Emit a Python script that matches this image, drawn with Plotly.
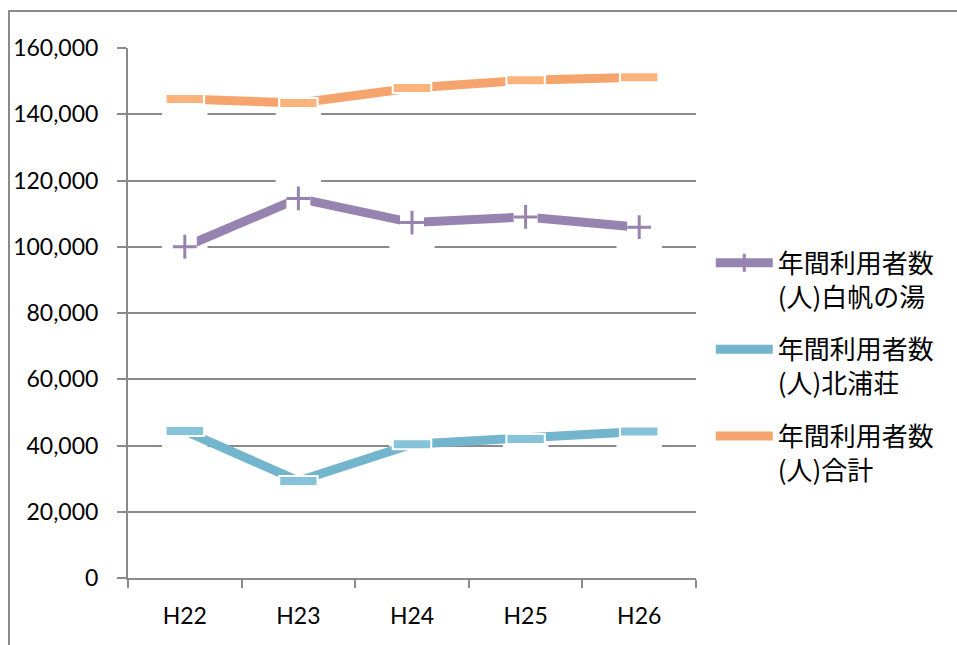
import plotly.graph_objects as go

# Fiscal years (Heisei era)
years = ["H22", "H23", "H24", "H25", "H26"]

# Annual visitor counts
shirahonoyu = [100000, 114600, 107300, 109000, 105900]
kitaurasou = [44400, 29300, 40400, 42000, 44200]
total = [144600, 143400, 147900, 150300, 151200]

# Series names
name_shiraho = "年間利用者数<br>(人)白帆の湯"
name_kitaura = "年間利用者数<br>(人)北浦荘"
name_total = "年間利用者数<br>(人)合計"

PURPLE = "#9783b0"
CYAN = "#73b5cd"
ORANGE = "#f6a46d"
ORANGE_LIGHT = "#fbb37c"
CYAN_LIGHT = "#86c3d8"
GRID = "#8a8a8a"

LATIN = "Lato"
CJK = "Noto Sans CJK JP"

fig = go.Figure()

# Line series (legend entries)
fig.add_trace(go.Scatter(
    x=years, y=shirahonoyu, name=name_shiraho, legendgroup="a",
    mode="lines+markers",
    line=dict(color=PURPLE, width=9),
    marker=dict(symbol="cross-thin", size=13, color=PURPLE,
                line=dict(color=PURPLE, width=3)),
))
fig.add_trace(go.Scatter(
    x=years, y=kitaurasou, name=name_kitaura, legendgroup="b",
    mode="lines", line=dict(color=CYAN, width=9),
))
fig.add_trace(go.Scatter(
    x=years, y=total, name=name_total, legendgroup="c",
    mode="lines", line=dict(color=ORANGE, width=9),
))

# White backing behind the cross markers
fig.add_trace(go.Scatter(
    x=years, y=shirahonoyu, mode="markers", showlegend=False, hoverinfo="skip",
    marker=dict(symbol="square", size=24, color="white", line=dict(width=0)),
))
fig.add_trace(go.Scatter(
    x=years, y=shirahonoyu, mode="markers", showlegend=False, hoverinfo="skip",
    marker=dict(symbol="cross-thin", size=17, color=PURPLE,
                line=dict(color=PURPLE, width=3)),
))

# Dash markers with a white rim for the other two series
for vals, light in ((kitaurasou, CYAN_LIGHT), (total, ORANGE_LIGHT)):
    fig.add_trace(go.Scatter(
        x=years, y=vals, mode="markers", showlegend=False, hoverinfo="skip",
        marker=dict(symbol="line-ew", size=29, color="white",
                    line=dict(color="white", width=12)),
    ))
    fig.add_trace(go.Scatter(
        x=years, y=vals, mode="markers", showlegend=False, hoverinfo="skip",
        marker=dict(symbol="line-ew", size=26, color=light,
                    line=dict(color=light, width=8)),
    ))

# White glow around each marker, drawn over the gridlines
shapes = []
for vals, half_h in ((shirahonoyu, 8200), (kitaurasou, 6000), (total, 6000)):
    for i, v in enumerate(vals):
        shapes.append(dict(
            type="rect", xref="x", yref="y", layer="between",
            x0=i - 0.2, x1=i + 0.2, y0=v - half_h, y1=v + half_h,
            fillcolor="white", line=dict(width=0),
        ))

# Outer frame (left and top edges visible)
shapes.append(dict(
    type="rect", xref="paper", yref="paper", layer="above",
    x0=-0.2095, x1=1.5, y0=-0.2, y1=1.0698,
    line=dict(color=GRID, width=2), fillcolor="rgba(0,0,0,0)",
))

fig.update_layout(
    width=957, height=645,
    margin=dict(l=128, r=261, t=48, b=67),
    paper_bgcolor="white", plot_bgcolor="white",
    font=dict(family=LATIN, size=23, color="black"),
    shapes=shapes,
    showlegend=True,
    legend=dict(
        x=1.026, xanchor="left", y=0.639, yanchor="top",
        font=dict(family=CJK, size=26, color="black"),
        itemwidth=57, valign="top", tracegroupgap=16,
        traceorder="grouped", bgcolor="rgba(0,0,0,0)",
    ),
    xaxis=dict(
        type="category", range=[-0.5, 4.5],
        showline=True, linecolor=GRID, linewidth=2,
        ticks="outside", tickson="boundaries", ticklen=8,
        tickcolor=GRID, tickwidth=2,
        showgrid=False, zeroline=False,
        tickfont=dict(family=LATIN, size=23, color="black"),
        ticklabelstandoff=16,
    ),
    yaxis=dict(
        range=[0, 160000], dtick=20000, tickformat=",",
        showline=True, linecolor=GRID, linewidth=2,
        ticks="outside", ticklen=9, tickcolor=GRID, tickwidth=2,
        showgrid=True, gridcolor=GRID, gridwidth=2, zeroline=False,
        tickfont=dict(family=LATIN, size=23, color="black"),
        ticklabelstandoff=14,
    ),
)

fig.write_html("out.html")
